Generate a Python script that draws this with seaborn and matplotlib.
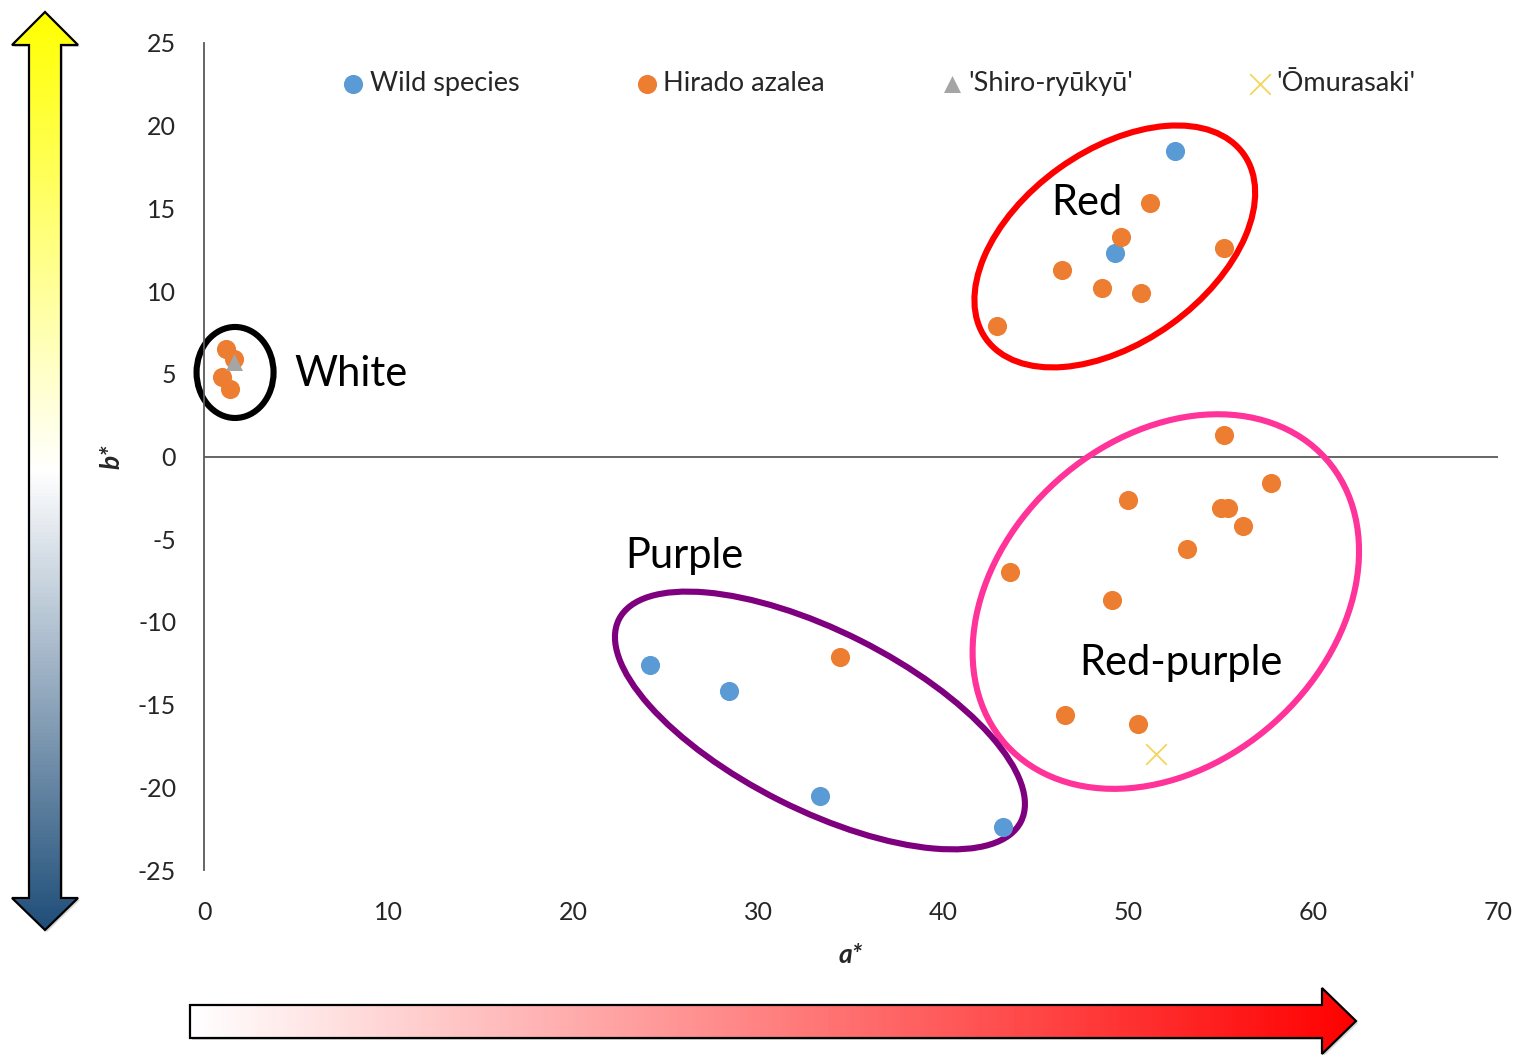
import numpy as np
import pandas as pd
import matplotlib
matplotlib.use("Agg")
import matplotlib.pyplot as plt
import seaborn as sns
from matplotlib.patches import Ellipse, Polygon
from matplotlib.colors import LinearSegmentedColormap
from matplotlib.transforms import IdentityTransform

# data (a*, b*)
wild_a = [52.5, 49.3, 24.1, 28.4, 33.3, 43.2]
wild_b = [18.5, 12.3, -12.6, -14.2, -20.5, -22.4]

hirado_a = [51.2, 49.6, 55.2, 46.4, 48.6, 50.7, 42.9,
            1.2, 1.6, 1.0, 1.4,
            55.2, 57.7, 50.0, 55.0, 55.4, 56.2, 53.2, 43.6, 49.1, 46.6, 50.5,
            34.4]
hirado_b = [15.3, 13.3, 12.6, 11.3, 10.2, 9.9, 7.9,
            6.5, 5.9, 4.8, 4.1,
            1.3, -1.6, -2.6, -3.1, -3.1, -4.2, -5.6, -7.0, -8.7, -15.6, -16.2,
            -12.1]

shiro_a = [1.6]
shiro_b = [5.7]
omura_a = [51.5]
omura_b = [-18.0]

groups = ["Wild species", "Hirado azalea", "'Shiro-ryūkyū'", "'Ōmurasaki'"]
colors = ["#5B9BD5", "#ED7D31", "#A5A5A5", "#F5D45E"]
markers = ["o", "o", "^", "x"]
sizes = [190, 190, 150, 220]

df = pd.concat([
    pd.DataFrame({"a": wild_a, "b": wild_b, "group": groups[0]}),
    pd.DataFrame({"a": hirado_a, "b": hirado_b, "group": groups[1]}),
    pd.DataFrame({"a": shiro_a, "b": shiro_b, "group": groups[2]}),
    pd.DataFrame({"a": omura_a, "b": omura_b, "group": groups[3]}),
])

# colour groups: label, centre (a*, b*), ellipse size in px, angle, colour
clusters = [
    ("White", (1.68, 5.08), 77, 91, 0, "black", (4.9, 5.0), "left"),
    ("Red", (49.27, 12.70), 317, 192, 35.7, "#FF0000", (47.76, 15.3), "center"),
    ("Red-purple", (52.03, -8.77), 429, 325, 41.7, "#FF3399", (52.84, -12.5), "center"),
    ("Purple", (33.32, -15.96), 450, 179, -26.7, "#7F007F", (25.96, -6.0), "center"),
]

sns.set_style("white")
plt.rcParams["font.family"] = ["Lato", "DejaVu Sans"]
plt.rcParams["axes.unicode_minus"] = False

W, H = 1520, 1055
fig = plt.figure(figsize=(W / 100, H / 100), dpi=100)

# background layer with the two gradient arrows
bg = fig.add_axes([0, 0, 1, 1], zorder=0)

def grad_arrow(verts, cmap, extent, vertical):
    shadow = Polygon([(x + 2, y + 2) for x, y in verts], closed=True,
                     facecolor="#BBBBBB", edgecolor="none", alpha=0.6)
    bg.add_patch(shadow)
    poly = Polygon(verts, closed=True, facecolor="none", edgecolor="black", lw=1.6)
    bg.add_patch(poly)
    g = np.linspace(0, 1, 256)
    g = g.reshape(-1, 1) if vertical else g.reshape(1, -1)
    im = bg.imshow(g, cmap=cmap, extent=extent, aspect="auto", zorder=1)
    im.set_clip_path(poly)
    poly.set_zorder(2)

v_cmap = LinearSegmentedColormap.from_list("yb", ["#FFFF00", "#FFFFFF", "#1F4E79"])
h_cmap = LinearSegmentedColormap.from_list("wr", ["#FFFFFF", "#FF0000"])
grad_arrow([(45, 12), (78, 45), (61, 45), (61, 898), (78, 898), (45, 930),
            (12, 898), (29, 898), (29, 45), (12, 45)],
           v_cmap, (12, 78, 930, 12), True)
grad_arrow([(190, 1005), (1322, 1005), (1322, 988), (1356, 1021), (1322, 1054),
            (1322, 1038), (190, 1038)],
           h_cmap, (190, 1356, 1054, 988), False)
bg.set_xlim(0, W)
bg.set_ylim(H, 0)
bg.axis("off")

# main chart
ax = fig.add_axes([204 / W, 1 - 870 / H, (1498 - 204) / W, (870 - 43) / H], zorder=1)
ax.patch.set_alpha(0)

for g, c, m, s in zip(groups, colors, markers, sizes):
    sub = df[df["group"] == g]
    if m == "x":
        sns.scatterplot(data=sub, x="a", y="b", color=c, marker=m, s=s,
                        linewidth=1.3, label=g, ax=ax, zorder=4)
    else:
        sns.scatterplot(data=sub, x="a", y="b", color=c, marker=m, s=s,
                        linewidth=0, label=g, ax=ax, zorder=4)

ax.set_xlim(0, 70)
ax.set_ylim(-25, 25)
ax.set_xticks(range(0, 71, 10))
ax.set_yticks(range(-25, 26, 5))
ax.tick_params(axis="both", length=0, labelsize=18, labelcolor="#262626")
ax.tick_params(axis="x", pad=22)
ax.tick_params(axis="y", pad=20)
for side in ["top", "right", "bottom"]:
    ax.spines[side].set_visible(False)
ax.spines["left"].set_color("#595959")
ax.spines["left"].set_linewidth(1.3)
ax.axhline(0, color="#595959", lw=1.3, zorder=1)

ax.set_xlabel("a*", fontsize=19, fontweight="bold", fontstyle="italic")
ax.set_ylabel("b*", fontsize=19, fontweight="bold", fontstyle="italic")
ax.xaxis.set_label_coords(0.5, -0.088)
ax.yaxis.set_label_coords(-0.062, 0.5)

# cluster ellipses (sized in pixels) and names
for name, cen, w, h, ang, col, tpos, ha in clusters:
    cx, cy = ax.transData.transform(cen)
    e = Ellipse((cx, cy), w, h, angle=ang, transform=IdentityTransform(),
                facecolor="none", edgecolor=col, lw=4.4, zorder=2, clip_on=False)
    ax.add_patch(e)
    ax.text(tpos[0], tpos[1], name, fontsize=30, ha=ha, va="center",
            color="black", zorder=5)

ax.legend(loc="upper left", bbox_to_anchor=(0.105, 0.966), ncol=4, frameon=False,
          fontsize=19.5, columnspacing=4.2, handletextpad=0.1, handlelength=1.0,
          borderaxespad=0, borderpad=0, markerscale=1.0)

fig.savefig("out.png", dpi=100)
